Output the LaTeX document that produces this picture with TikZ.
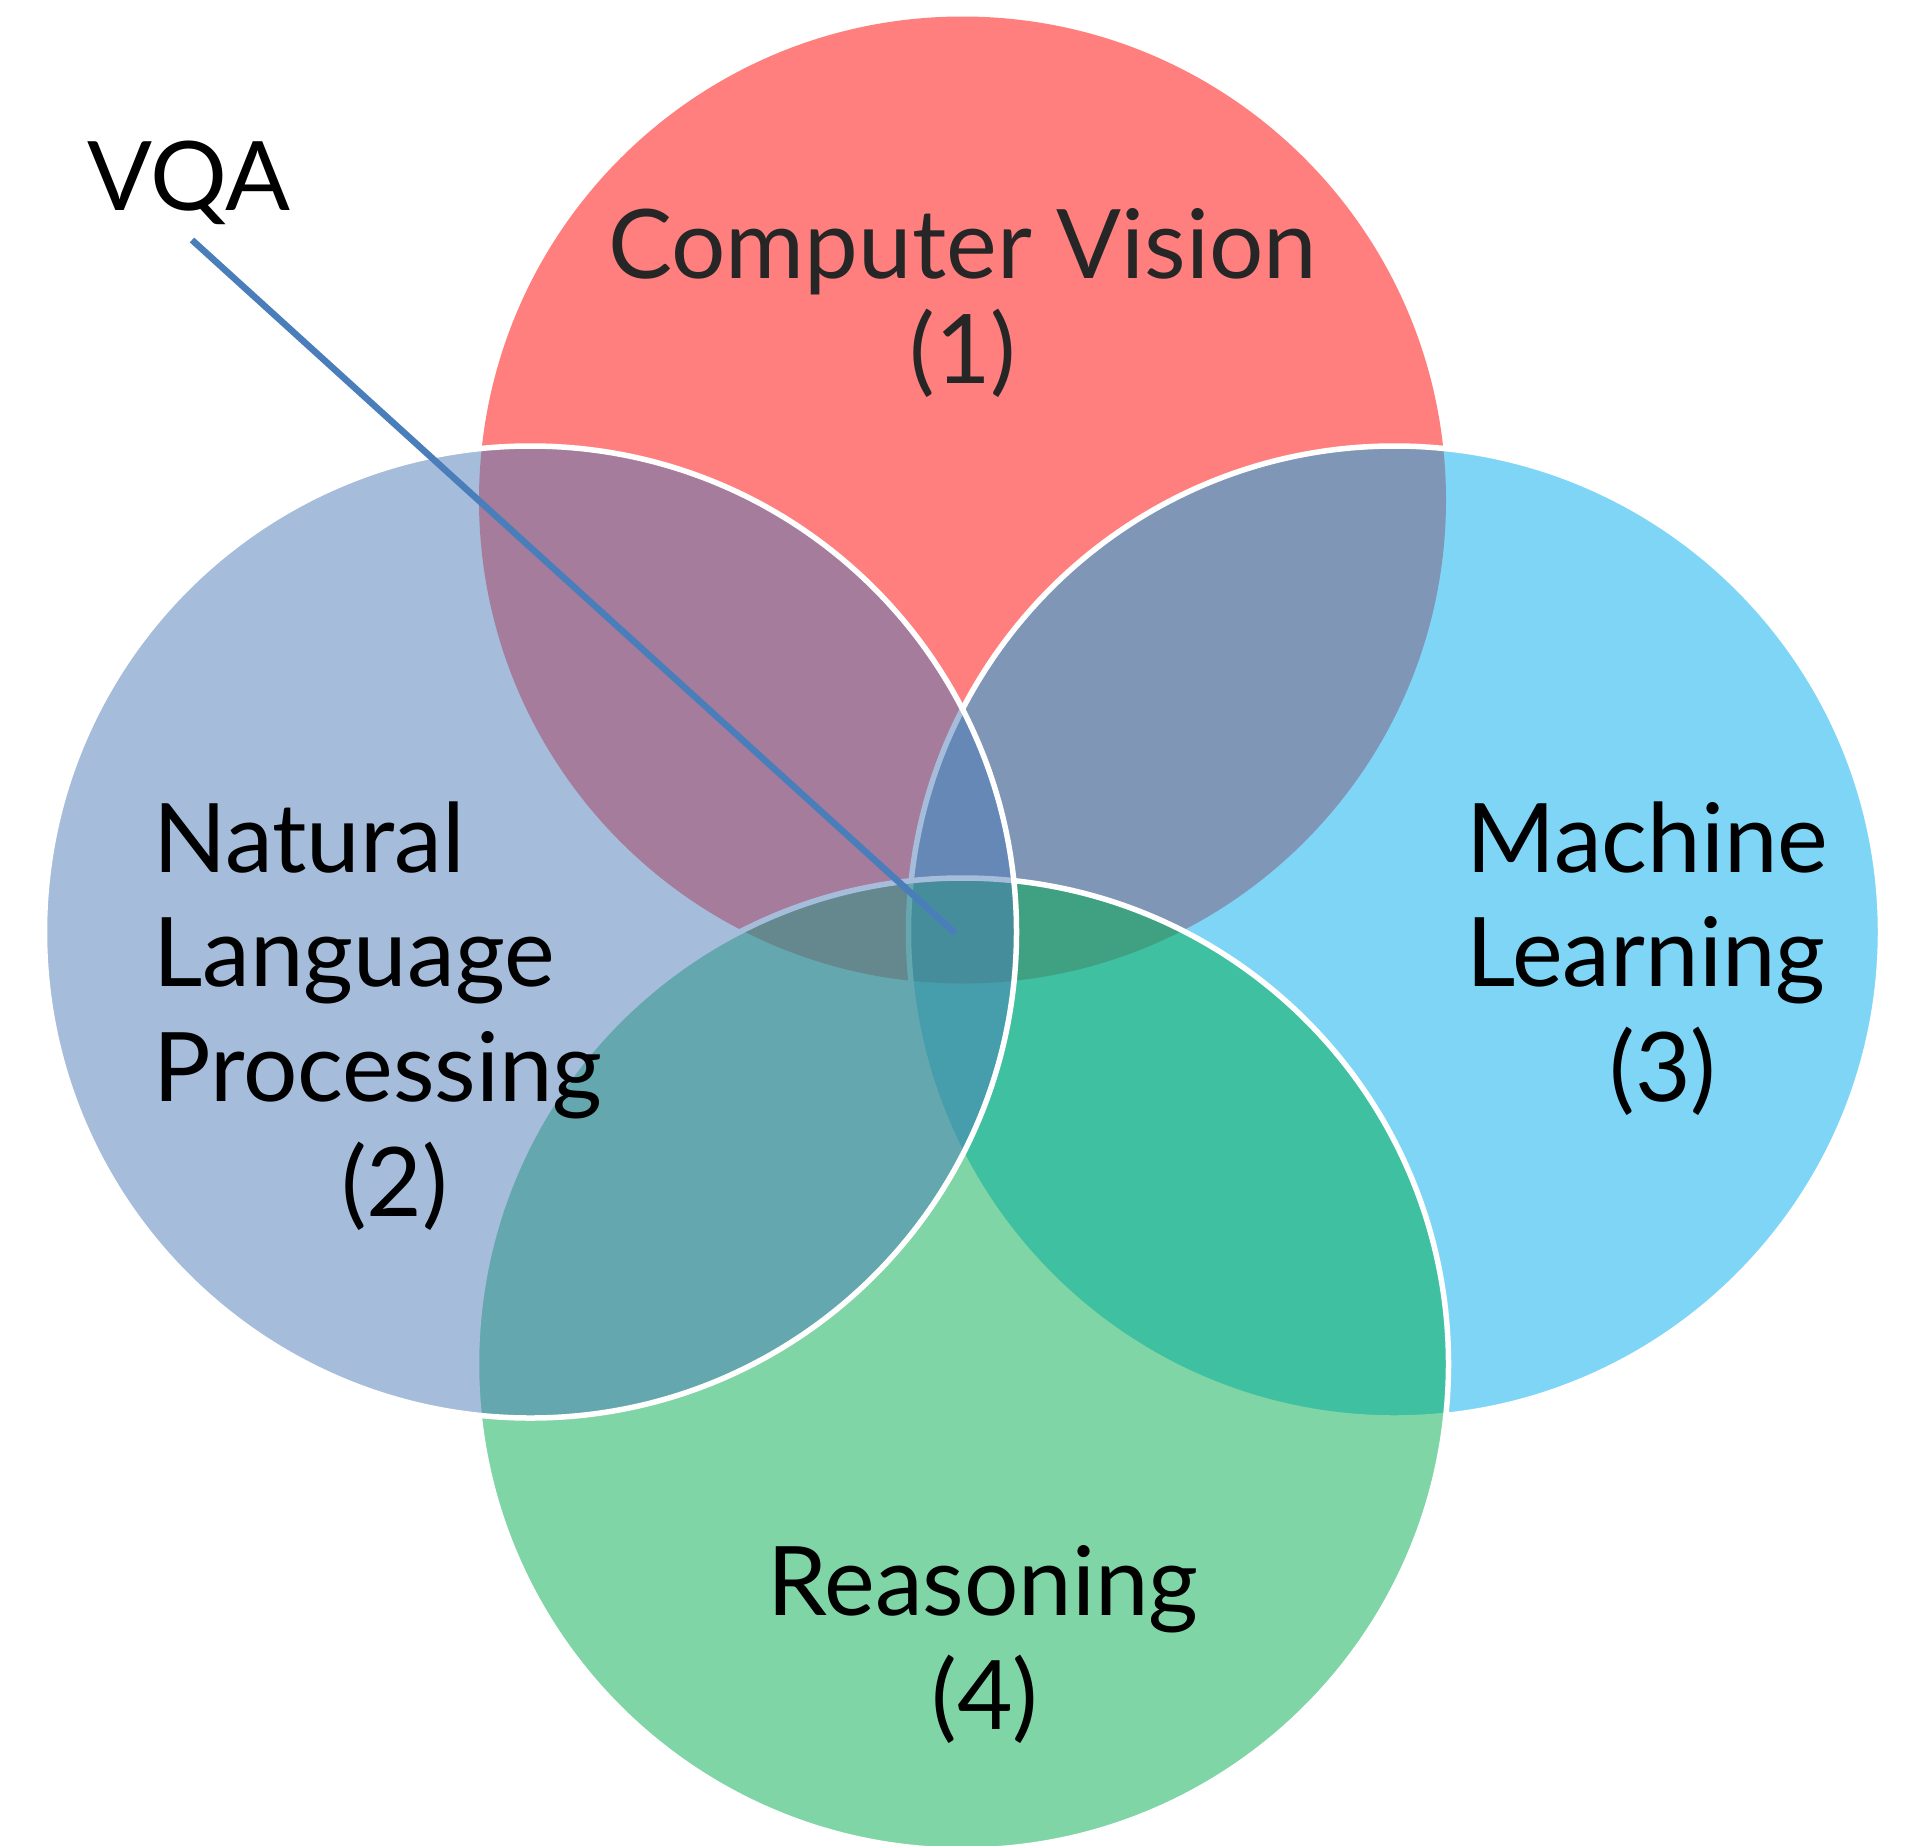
\documentclass[tikz,border=0pt]{standalone}
\usepackage{fontspec}
\setmainfont{Lato}
\definecolor{cvred}{RGB}{255,0,0}
\definecolor{nlpblue}{RGB}{77,123,183}
\definecolor{mlcyan}{RGB}{0,173,239}
\definecolor{rsgreen}{RGB}{0,172,76}
\definecolor{vqablue}{RGB}{74,126,187}
\definecolor{cvtext}{RGB}{38,38,38}
\begin{document}
\begin{tikzpicture}[x=1pt,y=-1pt,
  venn/.style={fill opacity=0.5, draw=white, line width=5.5pt},
  vennplain/.style={fill opacity=0.5},
  lbl/.style={font=\fontsize{96}{115.2}\selectfont, inner sep=0pt, text=black},
  pointer/.style={draw=vqablue, line width=6.5pt}]
\clip (0,0) rectangle (1906,1845);
\fill[white] (0,0) rectangle (1906,1845);
% circle centres
\coordinate (ccv)  at (962.5,500);
\coordinate (cml)  at (1394.5,932);
\coordinate (crs)  at (962.5,1364);
\coordinate (cnlp) at (530.5,932);
% circles (drawing order matters for the blend)
\fill[vennplain, fill=cvred] (ccv) circle[radius=483.5pt];
\draw[venn, fill=mlcyan]  (cml)  circle[radius=486pt];
\draw[venn, fill=rsgreen] (crs)  circle[radius=486pt];
\draw[venn, fill=nlpblue] (cnlp) circle[radius=486pt];
% labels
\node[lbl, text=cvtext, anchor=base] (cv)  at (962.6,278.7) {Computer Vision};
\node[lbl, text=cvtext, anchor=base] (cv1) at (963,383.3) {(1)};
\node[lbl, anchor=base west] (nlpa) at (153,872.7) {Natural};
\node[lbl, anchor=base west] (nlpb) at (153,986.7) {Language};
\node[lbl, anchor=base west] (nlpc) at (153,1101.7) {Processing};
\node[lbl, anchor=base] (nlp2) at (394.5,1216.7) {(2)};
\node[lbl, anchor=base west] (mla) at (1466,872.7) {Machine};
\node[lbl, anchor=base west] (mlb) at (1466,986.7) {Learning};
\node[lbl, anchor=base] (ml3) at (1663,1101.7) {(3)};
\node[lbl, anchor=base] (rs)  at (983,1615) {Reasoning};
\node[lbl, anchor=base] (rs4) at (985,1729.3) {(4)};
\node[lbl, anchor=base west] (vqa) at (87,210) {VQA};
% pointer
\coordinate (vqastart) at (192,240);
\coordinate (vqaend)   at (955,933);
\draw[pointer] (vqastart) -- (vqaend);
\end{tikzpicture}
\end{document}
